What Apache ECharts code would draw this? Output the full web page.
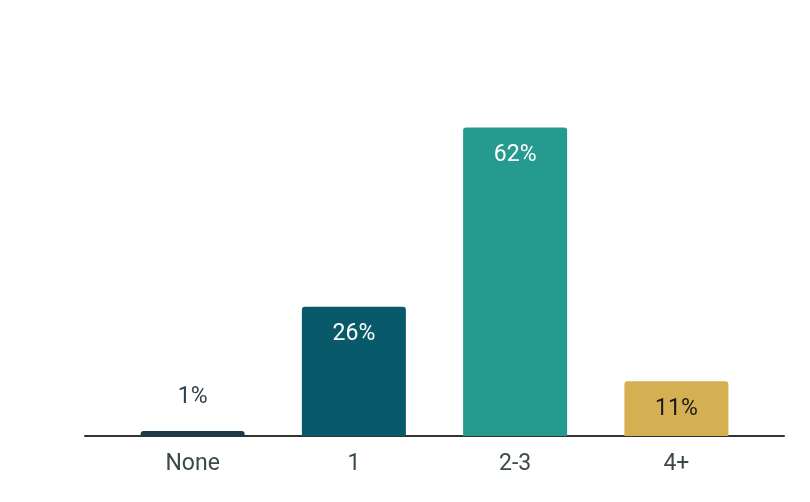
<!DOCTYPE html>
<html>
<head>
<meta charset="utf-8">
<script src="https://cdn.jsdelivr.net/npm/echarts@6/dist/echarts.min.js"></script>
<style>html,body{margin:0;padding:0;background:#fff}#c{width:810px;height:502px}</style>
</head>
<body>
<div id="c"></div>
<script>
const categories = ['None', '1', '2-3', '4+'];
const values = [1, 26, 62, 11];
const barColors = ['#1f3a47', '#085a6b', '#259a8e', '#d4b052'];
const labelColors = ['#2e424a', '#ffffff', '#ffffff', '#1a1a1a'];
const labelPositions = ['top', 'insideTop', 'insideTop', 'insideTop'];

const chart = echarts.init(document.getElementById('c'));
chart.setOption({
  animation: false,
  textStyle: { fontFamily: 'Roboto' },
  grid: [
    { left: 112, right: 53, top: 38, bottom: 66 },
    { left: 85, right: 26, top: 38, bottom: 66 }
  ],
  xAxis: [
    {
      type: 'category', data: categories, gridIndex: 0,
      axisLine: { show: false }, axisTick: { show: false },
      axisLabel: { fontSize: 23, color: '#3a4a48', margin: 17, fontFamily: 'Roboto' }
    },
    {
      type: 'value', gridIndex: 1, min: 0, max: 1,
      axisLine: { show: true, lineStyle: { color: '#333333', width: 2 } },
      axisTick: { show: false }, axisLabel: { show: false }, splitLine: { show: false }
    }
  ],
  yAxis: [
    { type: 'value', gridIndex: 0, min: 0, max: 80, show: false },
    { type: 'value', gridIndex: 1, min: 0, max: 1, show: false }
  ],
  series: [{
    type: 'bar',
    xAxisIndex: 0, yAxisIndex: 0,
    barWidth: 104,
    data: values.map((v, i) => ({
      value: v,
      itemStyle: { color: barColors[i], borderRadius: [3, 3, 0, 0] },
      label: {
        show: true,
        position: labelPositions[i],
        distance: labelPositions[i] === 'top' ? 22 : 16,
        color: labelColors[i],
        fontSize: 23,
        fontFamily: 'Roboto',
        formatter: '{c}%'
      }
    }))
  }]
});
</script>
</body>
</html>
